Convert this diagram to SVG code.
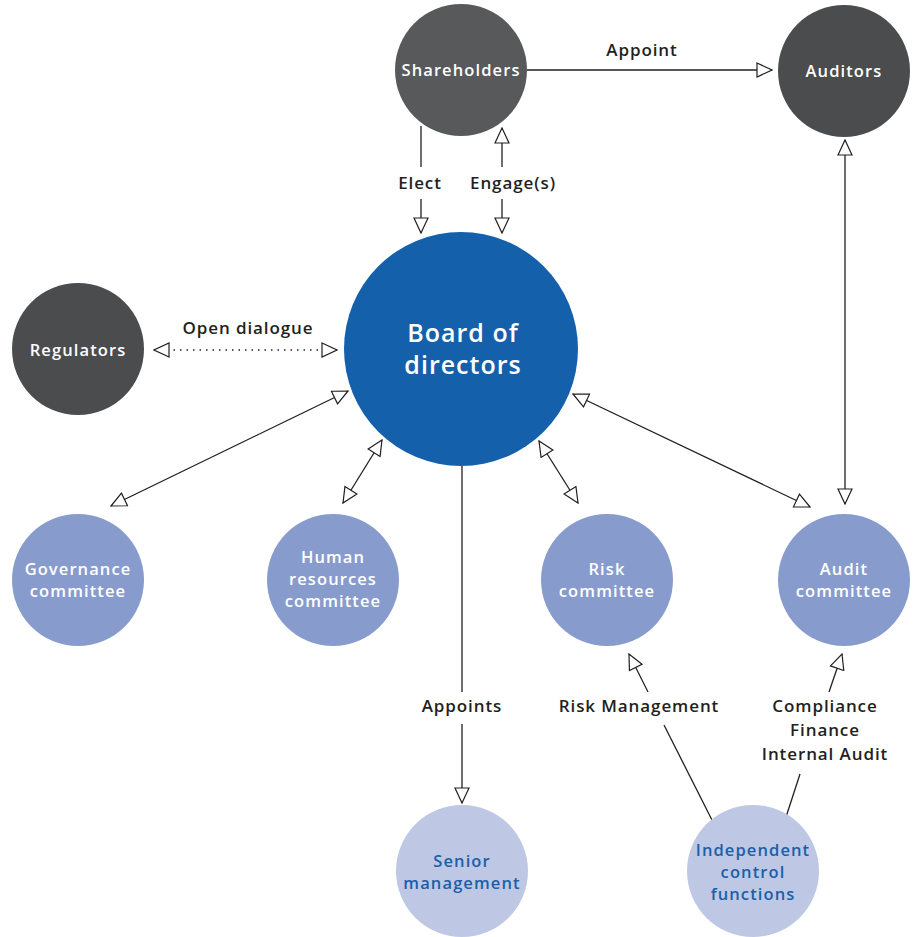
<svg xmlns="http://www.w3.org/2000/svg" width="914" height="937" viewBox="0 0 914 937">
<defs>
<marker id="arr" viewBox="-1 -1 17 16" refX="15" refY="7" markerWidth="17" markerHeight="16" markerUnits="userSpaceOnUse" orient="auto-start-reverse">
<path d="M0,0 L15,7 L0,14 Z" fill="#fff" stroke="#231f20" stroke-width="1.2" stroke-linejoin="miter"/>
</marker>
<style>
.n text{font-family:"Open Sans","Noto Sans",sans-serif;font-weight:600;font-size:16.5px;letter-spacing:1.1px;text-anchor:middle;fill:#fff}
.n .bl{fill:#1a5fa8}
.lbl{font-family:"Open Sans","Noto Sans",sans-serif;font-weight:600;font-size:17px;letter-spacing:0.9px;text-anchor:middle;fill:#231f20}
.c line{stroke:#231f20;stroke-width:1.3;fill:none}
.dk{fill:#4b4c4e}
.md{fill:#58595b}
.cm{fill:#879ccd}
.lt{fill:#bec8e5}
</style>
</defs>
<g id="connectors" class="c">
<line x1="527" y1="70" x2="772" y2="70" marker-end="url(#arr)"/>
<line x1="421" y1="126" x2="421" y2="167"/>
<line x1="421" y1="199" x2="421" y2="233" marker-end="url(#arr)"/>
<line x1="502" y1="167" x2="502" y2="128" marker-end="url(#arr)"/>
<line x1="502" y1="199" x2="502" y2="233" marker-end="url(#arr)"/>
<line x1="154" y1="350" x2="337" y2="350" stroke-dasharray="1.5 5" marker-start="url(#arr)" marker-end="url(#arr)"/>
<line x1="348" y1="391" x2="111" y2="506" marker-start="url(#arr)" marker-end="url(#arr)"/>
<line x1="382" y1="440" x2="343" y2="503" marker-start="url(#arr)" marker-end="url(#arr)"/>
<line x1="539" y1="441" x2="578" y2="503" marker-start="url(#arr)" marker-end="url(#arr)"/>
<line x1="573" y1="394" x2="810" y2="507" marker-start="url(#arr)" marker-end="url(#arr)"/>
<line x1="845" y1="140" x2="845" y2="504" marker-start="url(#arr)" marker-end="url(#arr)"/>
<line x1="462" y1="466" x2="462" y2="692"/>
<line x1="462" y1="724" x2="462" y2="803" marker-end="url(#arr)"/>
<line x1="714" y1="824" x2="664" y2="725"/>
<line x1="648" y1="692" x2="629" y2="654" marker-end="url(#arr)"/>
<line x1="786" y1="817" x2="800" y2="774"/>
<line x1="829" y1="692" x2="842" y2="654" marker-end="url(#arr)"/>
<text class="lbl" x="642" y="56">Appoint</text>
<text class="lbl" x="420" y="189">Elect</text>
<text class="lbl" x="513" y="189">Engage(s)</text>
<text class="lbl" x="248" y="334">Open dialogue</text>
<text class="lbl" x="462" y="712">Appoints</text>
<text class="lbl" x="639" y="712">Risk Management</text>
<text class="lbl" x="825" y="712">Compliance</text>
<text class="lbl" x="825" y="736">Finance</text>
<text class="lbl" x="825" y="760">Internal Audit</text>
</g>
<g id="shareholders" class="n"><circle class="md" cx="461" cy="70" r="66"/><text x="461" y="76">Shareholders</text></g>
<g id="auditors" class="n"><circle class="dk" cx="844" cy="71" r="66"/><text x="844" y="77">Auditors</text></g>
<g id="regulators" class="n"><circle class="dk" cx="78" cy="349" r="66"/><text x="78" y="356">Regulators</text></g>
<g id="board" class="n"><circle fill="#1560aa" cx="461" cy="349" r="117"/><text x="463" y="342" style="font-size:25px;letter-spacing:1px">Board of</text><text x="463" y="374" style="font-size:25px;letter-spacing:1px">directors</text></g>
<g id="governance" class="n"><circle class="cm" cx="78" cy="580" r="66"/><text x="78" y="575">Governance</text><text x="78" y="597">committee</text></g>
<g id="hr" class="n"><circle class="cm" cx="333" cy="580" r="66"/><text x="333" y="563">Human</text><text x="333" y="585">resources</text><text x="333" y="607">committee</text></g>
<g id="risk" class="n"><circle class="cm" cx="607" cy="580" r="66"/><text x="607" y="575">Risk</text><text x="607" y="597">committee</text></g>
<g id="audit" class="n"><circle class="cm" cx="844" cy="580" r="66"/><text x="844" y="575">Audit</text><text x="844" y="597">committee</text></g>
<g id="senior" class="n"><circle class="lt" cx="462" cy="871" r="66"/><text class="bl" x="462" y="867">Senior</text><text class="bl" x="462" y="889">management</text></g>
<g id="icf" class="n"><circle class="lt" cx="753" cy="871" r="66"/><text class="bl" x="753" y="856">Independent</text><text class="bl" x="753" y="878">control</text><text class="bl" x="753" y="900">functions</text></g>
</svg>
